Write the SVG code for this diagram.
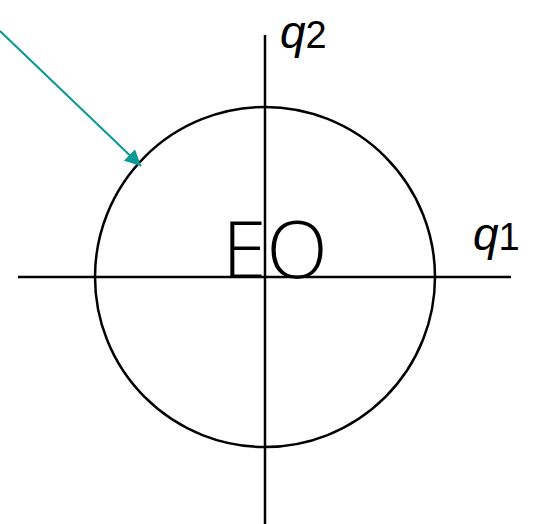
<svg xmlns="http://www.w3.org/2000/svg" width="543" height="524" viewBox="0 0 543 524">
<style>
.ax{stroke:#000;stroke-width:2.5;fill:none}
.lbl{font-family:"Liberation Sans",Arial,sans-serif;font-size:46px;fill:#000}
</style>
<defs>
<marker id="ah" viewBox="0 0 10 10" refX="10" refY="5" markerWidth="8" markerHeight="8" orient="auto" markerUnits="strokeWidth">
<path d="M0,0 L10,5 L0,10 z" fill="#0a9a96"/>
</marker>
</defs>
<rect width="543" height="524" fill="#fff"/>
<g id="axes">
<line class="ax" x1="18" y1="277" x2="511" y2="277"/>
<line class="ax" x1="265" y1="35" x2="265" y2="524"/>
</g>
<g id="circle">
<circle class="ax" cx="265" cy="277" r="170"/>
</g>
<g id="labels">
<text class="lbl" x="280" y="48"><tspan font-style="italic">q</tspan><tspan font-size="38">2</tspan></text>
<text class="lbl" x="473" y="250"><tspan font-style="italic">q</tspan><tspan font-size="38">1</tspan></text>
<text x="275" y="278" text-anchor="middle" font-family="'Open Sans',sans-serif" font-size="80" font-weight="300" fill="#000">EO</text>
</g>
<g id="connectors">
<line x1="0" y1="31" x2="141" y2="166" stroke="#0a9a96" stroke-width="2" marker-end="url(#ah)"/>
</g>
</svg>
